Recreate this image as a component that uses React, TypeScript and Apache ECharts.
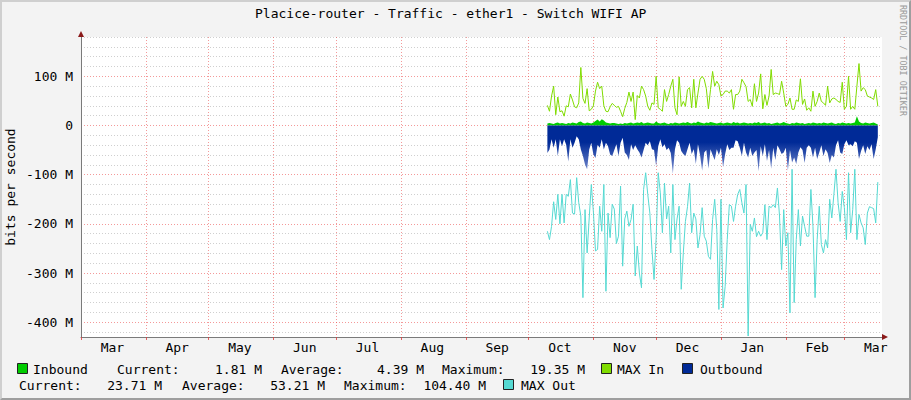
import React, { useEffect, useRef } from 'react';
import * as echarts from 'echarts';

// ---- axis / time frame ----
const AXIS_START = '2022-03-01';
const AXIS_DAYS = 384;
const DATA_START = '2022-10-10';
const MONTH_LABELS = ['Jan', 'Feb', 'Mar', 'Apr', 'May', 'Jun', 'Jul', 'Aug', 'Sep', 'Oct', 'Nov', 'Dec'];
const Y_MIN = -430;
const Y_MAX = 180;
const Y_STEP = 10;

// ---- series values, M bits per second, one per day from DATA_START ----
const inbound = [
  4, 5, 4, 3, 5, 6, 4, 5, 4, 3, 5, 4, 6, 5, 4, 7, 8, 5, 4, 6, 5, 4, 6, 9, 12, 8, 13, 10, 6, 5, 4, 5,
  5, 4, 3, 4, 3, 5, 4, 5, 6, 4, 5, 6, 5, 7, 4, 5, 6, 5, 4, 4, 8, 5, 4, 5, 6, 4, 3, 5, 4, 6, 5, 4, 5,
  6, 5, 7, 5, 4, 6, 5, 8, 6, 5, 4, 6, 5, 7, 6, 5, 4, 5, 6, 4, 5, 6, 5, 4, 7, 5, 6, 4, 5, 6, 5, 4,
  5, 4, 6, 5, 7, 4, 5, 6, 4, 5, 3, 4, 5, 6, 4, 5, 7, 5, 4, 3, 5, 4, 6, 5, 4, 5, 3, 4, 5, 4, 6, 5, 4,
  5, 4, 6, 5, 4, 5, 6, 4, 3, 5, 4, 6, 5, 4, 5, 4, 5, 6, 19, 8, 5, 4, 6, 5, 4, 5, 6, 4, 2,
];
const maxIn = [
  41, 29, 60, 80, 22, 58, 28, 30, 19, 40, 38, 64, 52, 38, 36, 46, 118, 55, 45, 75, 30, 33, 40, 70, 88, 75, 80, 40, 29, 28, 38, 45,
  41, 37, 39, 29, 18, 35, 47, 68, 49, 68, 12, 61, 56, 80, 73, 60, 39, 31, 46, 43, 100, 36, 33, 29, 73, 49, 63, 80, 94, 36, 22, 99, 39,
  49, 39, 73, 77, 36, 94, 36, 66, 94, 100, 94, 75, 34, 73, 110, 80, 90, 83, 60, 63, 70, 70, 66, 73, 33, 63, 63, 70, 94, 87, 79, 49,
  53, 39, 85, 49, 66, 105, 34, 63, 41, 60, 114, 63, 66, 65, 63, 90, 66, 39, 43, 56, 33, 33, 52, 49, 95, 43, 54, 31, 36, 29, 70, 39, 49,
  66, 49, 46, 41, 80, 46, 54, 56, 53, 49, 47, 88, 33, 39, 100, 33, 39, 33, 80, 126, 70, 77, 73, 60, 58, 56, 53, 73, 39,
];
const outbound = [
  -56, -49, -28, -45, -28, -62, -28, -42, -28, -39, -73, -28, -45, -35, -22, -28, -49, -62, -79, -89, -49, -35, -59, -66, -39, -45, -28, -49, -35, -42, -59, -62,
  -50, -38, -62, -35, -25, -55, -60, -70, -38, -50, -40, -48, -55, -65, -50, -35, -40, -32, -48, -50, -83, -42, -28, -44, -38, -50, -45, -56, -98, -48, -30, -35, -52,
  -58, -62, -48, -35, -58, -48, -78, -38, -60, -92, -55, -50, -88, -48, -60, -70, -48, -60, -45, -85, -58, -38, -50, -45, -45, -30, -32, -45, -62, -35, -55, -65,
  -45, -62, -55, -50, -93, -42, -62, -38, -72, -50, -88, -45, -70, -40, -48, -58, -55, -45, -92, -50, -75, -65, -78, -55, -44, -50, -76, -45, -40, -45, -65, -45, -68,
  -55, -40, -62, -48, -56, -76, -60, -65, -40, -30, -55, -58, -38, -30, -40, -38, -42, -32, -35, -68, -52, -40, -58, -42, -50, -38, -68, -48, -24,
];
const maxOut = [
  -215, -232, -205, -155, -191, -140, -200, -140, -198, -140, -144, -110, -178, -180, -106, -157, -184, -350, -171, -259, -188, -120, -175, -255, -252, -164, -215, -120, -337, -178, -228, -160,
  -170, -240, -225, -123, -286, -190, -174, -205, -191, -160, -306, -245, -300, -330, -130, -96, -140, -178, -252, -313, -230, -96, -137, -218, -117, -190, -164, -259, -120, -232, -190, -164, -333,
  -259, -195, -165, -117, -218, -178, -190, -249, -222, -167, -225, -235, -266, -272, -191, -150, -211, -374, -150, -371, -327, -232, -161, -164, -195, -164, -140, -130, -157, -178, -120, -428,
  -201, -215, -188, -226, -215, -225, -218, -161, -232, -164, -167, -161, -167, -127, -184, -293, -171, -245, -218, -381, -89, -360, -232, -171, -245, -184, -205, -225, -225, -130, -205, -350, -232,
  -164, -242, -259, -232, -249, -150, -188, -140, -89, -157, -195, -134, -167, -232, -96, -218, -171, -89, -232, -181, -198, -208, -242, -178, -165, -167, -169, -198, -115,
];

// ---- legend texts ----
const inStats = { current: '1.81 M', average: '4.39 M', maximum: '19.35 M' };
const outStats = { current: '23.71 M', average: '53.21 M', maximum: '104.40 M' };

const COLORS = {
  inbound: '#00CC00',
  maxIn: '#80DC00',
  outbound: '#002A97',
  maxOut: '#55D9D2',
};

const FONT = '"DejaVu Sans Mono", "Liberation Mono", monospace';
const MAJOR_GRID = 'rgba(235,70,70,0.55)';
const MINOR_GRID = '#CFCFCF';
const ARROW = '#8B1A1A';

const DAY_MS = 86400000;

function buildDays(): string[] {
  const start = Date.parse(AXIS_START + 'T00:00:00Z');
  return Array.from({ length: AXIS_DAYS }, (_, i) => new Date(start + i * DAY_MS).toISOString().slice(0, 10));
}

function App() {
  const ref = useRef<HTMLDivElement>(null);

  useEffect(() => {
    if (!ref.current) return;
    const chart = echarts.init(ref.current, undefined, { renderer: 'svg' });
    const days = buildDays();
    const startIdx = Math.round((Date.parse(DATA_START + 'T00:00:00Z') - Date.parse(AXIS_START + 'T00:00:00Z')) / DAY_MS);
    const toPairs = (arr: number[]) => arr.map((v, i) => [startIdx + i, v]);

    const isMonthStart = (_i: number, v: string) => typeof v === 'string' && v.slice(8, 10) === '01';
    const isMidMonth = (_i: number, v: string) => typeof v === 'string' && v.slice(8, 10) === '16';

    // grid colours cycling every Y_STEP from Y_MIN: majors at 100, minors at 20
    const cycle = 100 / Y_STEP;
    const gridColors = Array.from({ length: cycle }, (_, i) => {
      const v = Y_MIN + i * Y_STEP;
      if (((v % 100) + 100) % 100 === 0) return MAJOR_GRID;
      if (((v % 20) + 20) % 20 === 0) return MINOR_GRID;
      return 'rgba(0,0,0,0)';
    });

    const txt = (text: string, x: number, y: number, align: string = 'left') => ({
      type: 'text',
      x,
      y,
      silent: true,
      style: { text, fill: '#000', fontFamily: FONT, fontSize: 13, align, verticalAlign: 'middle' },
    });
    const swatch = (x: number, y: number, color: string) => ({
      type: 'rect',
      silent: true,
      shape: { x: x + 0.5, y: y + 0.5, width: 10, height: 10 },
      style: { fill: color, stroke: '#222', lineWidth: 1 },
    });

    const row1 = 369;
    const row2 = 385;

    const arrowLine = {
      show: true,
      onZero: false,
      symbol: ['none', 'triangle'],
      symbolSize: [6, 6],
      symbolOffset: [0, 3],
      lineStyle: { color: ARROW, width: 1, opacity: 0 },
    };

    const outboundFill = new echarts.graphic.LinearGradient(0, 0, 0, 1, [
      { offset: 0, color: COLORS.outbound },
      { offset: 0.35, color: COLORS.outbound },
      { offset: 1, color: '#7F92D2' },
    ]);

    const option: any = {
      animation: false,
      title: {
        text: 'Placice-router - Traffic - ether1 - Switch WIFI AP',
        left: 255,
        top: 7,
        padding: 0,
        textStyle: { fontFamily: FONT, fontSize: 13, fontWeight: 'normal', color: '#000' },
      },
      grid: {
        left: 81,
        top: 37,
        right: 29,
        bottom: 63,
        show: true,
        backgroundColor: '#FFFFFF',
        borderWidth: 0,
        containLabel: false,
        outerBoundsMode: 'none',
      },
      xAxis: [
        {
          type: 'category',
          data: days,
          boundaryGap: false,
          position: 'bottom',
          axisLine: { show: true, onZero: false, lineStyle: { color: '#7A7A7A', width: 1 } },
          axisTick: { show: true, interval: isMonthStart, length: 3, lineStyle: { color: 'rgba(220,60,60,0.8)' } },
          axisLabel: {
            interval: isMidMonth,
            formatter: (v: string) => MONTH_LABELS[parseInt(v.slice(5, 7), 10) - 1],
            fontFamily: FONT,
            fontSize: 13,
            color: '#000',
            margin: 4,
          },
          splitLine: { show: true, interval: isMonthStart, lineStyle: { color: MAJOR_GRID, type: [1, 2], width: 1 } },
        },
        {
          type: 'category',
          data: days,
          boundaryGap: false,
          position: 'bottom',
          axisLine: arrowLine,
          axisTick: { show: false },
          axisLabel: { show: false },
          splitLine: { show: false },
        },
      ],
      yAxis: [
        {
          type: 'value',
          min: Y_MIN,
          max: Y_MAX,
          interval: Y_STEP,
          position: 'left',
          axisLine: { show: true, onZero: false, lineStyle: { color: '#7A7A7A', width: 1 } },
          axisTick: { show: false },
          axisLabel: {
            formatter: (v: number) => (Math.round(v) % 100 === 0 ? (v === 0 ? '0' : `${v} M`) : ''),
            fontFamily: FONT,
            fontSize: 13,
            color: '#000',
            margin: 8,
          },
          splitLine: { show: true, lineStyle: { color: gridColors, type: [1, 2], width: 1 } },
          name: 'bits per second',
          nameLocation: 'middle',
          nameGap: 64,
          nameRotate: 90,
          nameMoveOverlap: false,
          nameTextStyle: { fontFamily: FONT, fontSize: 13, color: '#000' },
        },
        {
          type: 'value',
          min: Y_MIN,
          max: Y_MAX,
          position: 'left',
          axisLine: arrowLine,
          axisTick: { show: false },
          axisLabel: { show: false },
          splitLine: { show: false },
        },
      ],
      series: [
        {
          name: 'Inbound',
          type: 'line',
          data: toPairs(inbound),
          symbol: 'none',
          silent: true,
          lineStyle: { width: 0, color: COLORS.inbound },
          itemStyle: { color: COLORS.inbound },
          areaStyle: { color: COLORS.inbound, opacity: 1 },
          z: 2,
        },
        {
          name: 'MAX In',
          type: 'line',
          data: toPairs(maxIn),
          symbol: 'none',
          silent: true,
          lineStyle: { width: 1, color: COLORS.maxIn },
          itemStyle: { color: COLORS.maxIn },
          z: 3,
        },
        {
          name: 'Outbound',
          type: 'line',
          data: toPairs(outbound),
          symbol: 'none',
          silent: true,
          lineStyle: { width: 0, color: COLORS.outbound },
          itemStyle: { color: COLORS.outbound },
          areaStyle: { color: outboundFill, opacity: 1 },
          z: 2,
        },
        {
          name: 'MAX Out',
          type: 'line',
          data: toPairs(maxOut),
          symbol: 'none',
          silent: true,
          lineStyle: { width: 1, color: COLORS.maxOut },
          itemStyle: { color: COLORS.maxOut },
          z: 3,
        },
      ],
      graphic: [
        {
          type: 'text',
          x: 903,
          y: 5,
          rotation: -Math.PI / 2,
          silent: true,
          style: {
            text: 'RRDTOOL / TOBI OETIKER',
            fill: '#999999',
            fontFamily: FONT,
            fontSize: 8.4,
            align: 'left',
            verticalAlign: 'middle',
          },
        },
        swatch(17, row1 - 6, COLORS.inbound),
        txt('Inbound', 33, row1),
        txt('Current:', 117, row1),
        txt(inStats.current, 262, row1, 'right'),
        txt('Average:', 281, row1),
        txt(inStats.average, 424, row1, 'right'),
        txt('Maximum:', 442, row1),
        txt(inStats.maximum, 585, row1, 'right'),
        swatch(601, row1 - 6, COLORS.maxIn),
        txt('MAX In', 617, row1),
        swatch(682, row1 - 6, COLORS.outbound),
        txt('Outbound', 700, row1),
        txt('Current:', 19, row2),
        txt(outStats.current, 162, row2, 'right'),
        txt('Average:', 182, row2),
        txt(outStats.average, 325, row2, 'right'),
        txt('Maximum:', 344, row2),
        txt(outStats.maximum, 486, row2, 'right'),
        swatch(503, row2 - 6, COLORS.maxOut),
        txt('MAX Out', 521, row2),
      ],
    };

    chart.setOption(option);
    return () => {
      chart.dispose();
    };
  }, []);

  return (
    <div style={{ position: 'fixed', left: 0, top: 0, width: 911, height: 400, background: '#F3F3F3' }}>
      <div
        style={{
          position: 'absolute',
          left: 0,
          top: 0,
          width: 911,
          height: 400,
          boxSizing: 'border-box',
          borderTop: '2px solid #CFCFCF',
          borderLeft: '2px solid #CFCFCF',
          borderRight: '2px solid #9E9E9E',
          borderBottom: '2px solid #9E9E9E',
        }}
      />
      <div ref={ref} style={{ position: 'absolute', left: 0, top: 0, width: 911, height: 400 }} />
    </div>
  );
}

export default App;
